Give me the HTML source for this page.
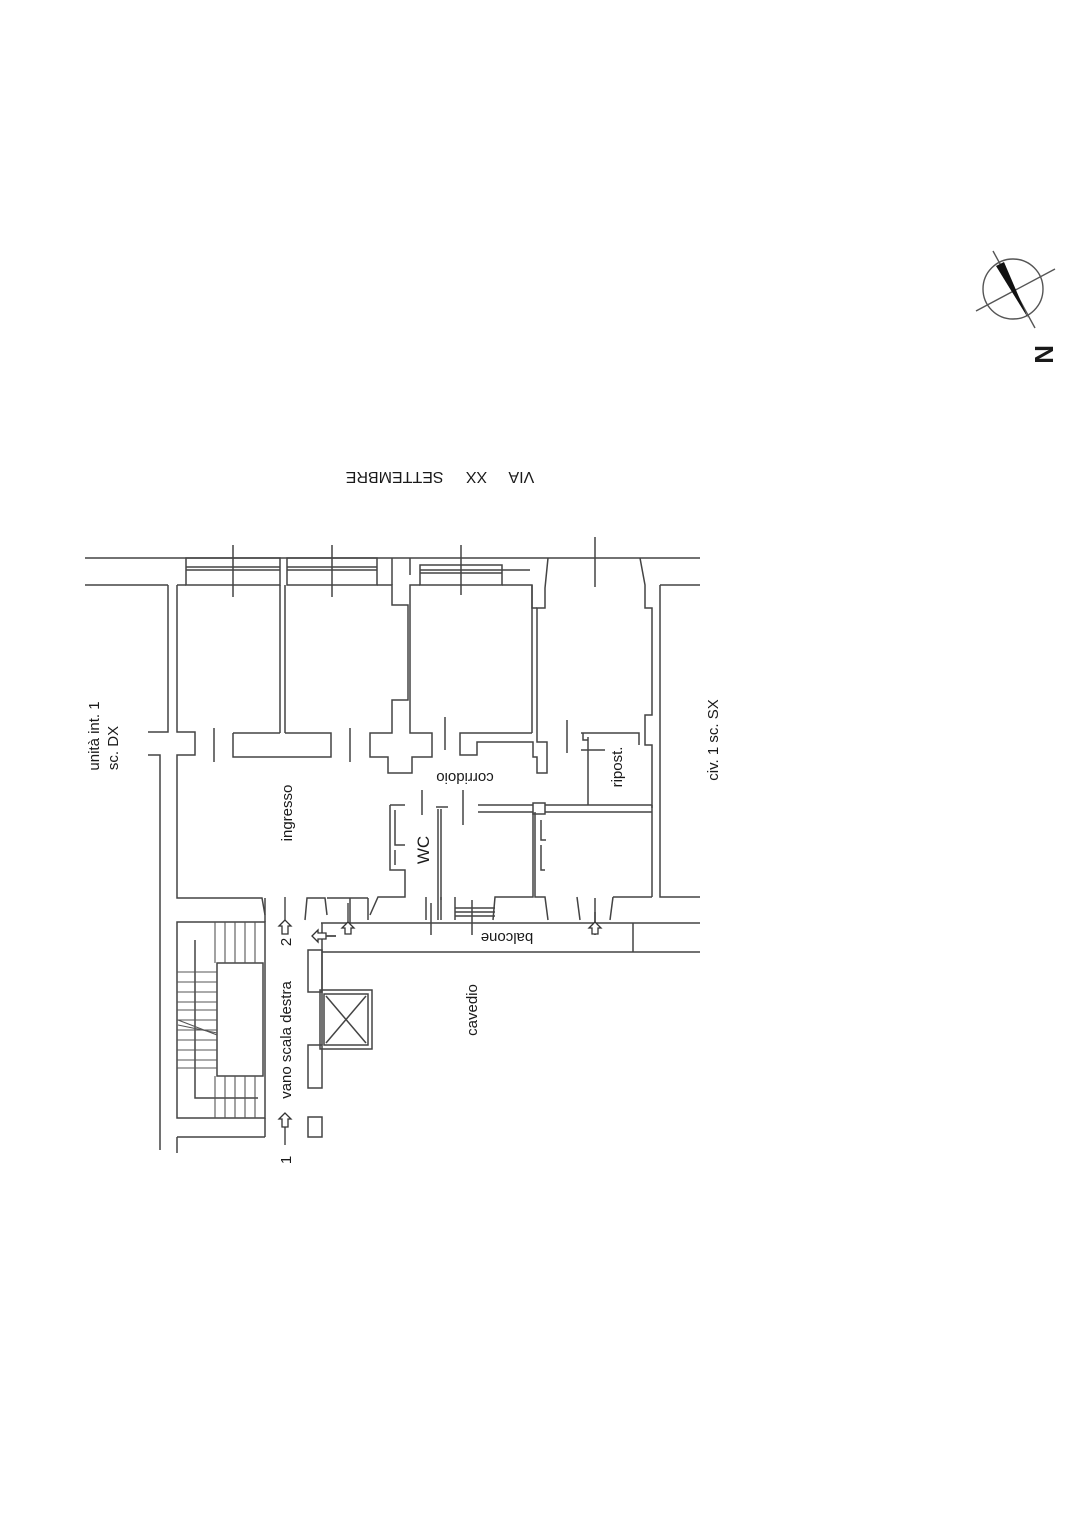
<!DOCTYPE html>
<html><head><meta charset="utf-8"><style>
html,body{margin:0;padding:0;background:#fff}
svg{display:block}
text{font-family:"Liberation Sans",sans-serif;fill:#1a1a1a}
</style></head><body>
<svg width="1085" height="1535" viewBox="0 0 1085 1535" xmlns="http://www.w3.org/2000/svg">
<rect width="1085" height="1535" fill="#fff"/>
<g stroke="#444" stroke-width="1.5" fill="none">
<line x1="85" y1="558" x2="700" y2="558"/>
<line x1="85" y1="585" x2="168" y2="585"/>
<line x1="660" y1="585" x2="700" y2="585"/>
<rect x="186" y="558" width="94" height="27"/><line x1="186" y1="567" x2="280" y2="567"/><line x1="186" y1="570" x2="280" y2="570"/>
<rect x="287" y="558" width="90" height="27"/><line x1="287" y1="567" x2="377" y2="567"/><line x1="287" y1="570" x2="377" y2="570"/>
<rect x="420" y="565" width="82" height="20"/><line x1="420" y1="570" x2="502" y2="570"/><line x1="420" y1="573" x2="502" y2="573"/>
<line x1="502" y1="570" x2="530" y2="570"/>
<line x1="233" y1="545" x2="233" y2="597"/><line x1="332" y1="545" x2="332" y2="597"/>
<line x1="461" y1="545" x2="461" y2="595"/><line x1="595" y1="537" x2="595" y2="587"/>
<polyline points="168,585 168,732 148,732"/>
<polyline points="177,585 177,732 195,732 195,755 177,755 177,898 262,898 265,915"/>
<polyline points="148,755 160,755 160,1150"/>
<line x1="280" y1="585" x2="280" y2="733"/><line x1="285" y1="585" x2="285" y2="733"/>
<polyline points="233,733 280,733"/><polyline points="285,733 331,733 331,757 233,757 233,733"/>
<line x1="177" y1="585" x2="186" y2="585"/>
<line x1="214" y1="728" x2="214" y2="762"/><line x1="350" y1="728" x2="350" y2="762"/>
<polyline points="377,585 392,585 392,605 408,605 408,700 392,700 392,733 370,733 370,757 388,757 388,773 412,773 412,757 432,757 432,733 410,733 410,585 420,585"/>
<line x1="392" y1="558" x2="392" y2="585"/><line x1="410" y1="558" x2="410" y2="575"/>
<polyline points="502,585 532,585 532,608 537,608"/>
<line x1="532" y1="585" x2="532" y2="733"/>
<polyline points="445,717 445,750"/>
<polyline points="532,733 460,733 460,755 477,755 477,742 533,742 533,757 537,757 537,773 547,773 547,742 537,742 537,715"/>
<polyline points="537,715 537,608 545,608 545,588 548,558"/>
<polyline points="640,558 645,585 645,608 652,608 652,715 645,715 645,745 652,745 652,808"/>
<polyline points="581,733 639,733 639,745"/>
<line x1="567" y1="720" x2="567" y2="753"/>
<polyline points="583,733 583,740 588,740"/>
<line x1="588" y1="737" x2="588" y2="805"/>
<line x1="581" y1="750" x2="605" y2="750"/>
<polyline points="660,585 660,897 700,897"/>
<line x1="652" y1="805" x2="652" y2="897"/>
<line x1="478" y1="805" x2="533" y2="805"/><line x1="478" y1="812" x2="533" y2="812"/>
<rect x="533" y="803" width="12" height="11"/>
<line x1="545" y1="805" x2="652" y2="805"/><line x1="545" y1="812" x2="652" y2="812"/>
<line x1="463" y1="790" x2="463" y2="825"/><line x1="422" y1="790" x2="422" y2="815"/>
<polyline points="390,805 405,805"/><polyline points="390,805 390,870 405,870 405,897 378,897 370,915"/>
<polyline points="395,810 395,845 405,845"/><polyline points="395,850 395,865"/>
<polyline points="436,807 448,807"/><line x1="438" y1="809" x2="438" y2="920"/><line x1="441" y1="809" x2="441" y2="900"/>
<polyline points="535,812 535,897 545,897 548,920"/>
<polyline points="541,820 541,840 546,840"/><polyline points="541,845 541,870 545,870"/>
<polyline points="533,812 533,897 495,897 493,920"/>
<polyline points="455,897 455,920"/>
<line x1="455" y1="908" x2="495" y2="908"/><line x1="455" y1="912" x2="495" y2="912"/><line x1="455" y1="916" x2="495" y2="916"/>
<line x1="472" y1="900" x2="472" y2="935"/>
<polyline points="441,897 441,920"/><polyline points="426,897 426,920"/>
<line x1="431" y1="903" x2="431" y2="935"/>
<polyline points="577,897 580,920"/><polyline points="613,897 610,920"/><line x1="613" y1="897" x2="652" y2="897"/>
<line x1="595" y1="898" x2="595" y2="935"/>
<polyline points="305,920 307,898 325,898 327,915"/>
<polyline points="350,898 350,930"/>
<polyline points="368,898 368,920"/>
<line x1="327" y1="898" x2="368" y2="898"/>
<line x1="321" y1="923" x2="700" y2="923"/>
<line x1="322" y1="952" x2="700" y2="952"/>
<line x1="633" y1="923" x2="633" y2="952"/>
<line x1="322" y1="923" x2="322" y2="1045"/>
<line x1="327" y1="936" x2="336" y2="936"/>
<rect x="177" y="922" width="88" height="196"/>
<rect x="217" y="963" width="46" height="113"/>
<polyline points="195,940 195,1098 258,1098"/>
<line x1="177" y1="1137" x2="265" y2="1137"/><line x1="177" y1="1137" x2="177" y2="1153"/>
<line x1="265" y1="1118" x2="265" y2="1137"/>
<line x1="265" y1="898" x2="265" y2="922"/>
</g>
<g stroke="#555" stroke-width="1.1">
<line x1="215" y1="922" x2="215" y2="963"/><line x1="225" y1="922" x2="225" y2="963"/><line x1="235" y1="922" x2="235" y2="963"/><line x1="245" y1="922" x2="245" y2="963"/><line x1="255" y1="922" x2="255" y2="963"/>
<line x1="215" y1="1076" x2="215" y2="1118"/><line x1="225" y1="1076" x2="225" y2="1118"/><line x1="235" y1="1076" x2="235" y2="1118"/><line x1="245" y1="1076" x2="245" y2="1118"/><line x1="255" y1="1076" x2="255" y2="1118"/>
<line x1="177" y1="972" x2="217" y2="972"/><line x1="177" y1="982" x2="217" y2="982"/><line x1="177" y1="992" x2="217" y2="992"/><line x1="177" y1="1002" x2="217" y2="1002"/><line x1="177" y1="1010" x2="217" y2="1010"/><line x1="177" y1="1020" x2="217" y2="1020"/><line x1="177" y1="1030" x2="217" y2="1030"/><line x1="177" y1="1040" x2="217" y2="1040"/><line x1="177" y1="1050" x2="217" y2="1050"/><line x1="177" y1="1060" x2="217" y2="1060"/><line x1="177" y1="1068" x2="217" y2="1068"/>
<line x1="178" y1="1020" x2="217" y2="1035"/><line x1="178" y1="1025" x2="217" y2="1033"/>
</g>
<g stroke="#444" stroke-width="1.5" fill="none">
<rect x="320" y="990" width="52" height="59"/>
<rect x="324" y="994" width="44" height="51"/>
<line x1="326" y1="996" x2="366" y2="1043"/><line x1="366" y1="996" x2="326" y2="1043"/>
<rect x="308" y="950" width="14" height="42"/>
<rect x="308" y="1045" width="14" height="43"/>
<rect x="308" y="1117" width="14" height="20"/>
</g>
<g stroke="#333" stroke-width="1.3" fill="#fff">
<line x1="285" y1="897" x2="285" y2="920"/>
<path d="M285,920 l-6,6 h3 v8 h6 v-8 h3 z"/>
<line x1="285" y1="1145" x2="285" y2="1125"/>
<path d="M285,1113 l-6,6 h3 v8 h6 v-8 h3 z"/>
<line x1="348" y1="903" x2="348" y2="925"/>
<path d="M348,922 l-6,6 h3 v6 h6 v-6 h3 z"/>
<line x1="595" y1="912" x2="595" y2="925"/>
<path d="M595,922 l-6,6 h3 v6 h6 v-6 h3 z"/>
<line x1="318" y1="936" x2="336" y2="936"/>
<path d="M312,936 l6,-6 v3 h8 v6 h-8 v3 z"/>
</g>
<g font-size="15">
<text transform="translate(292,813) rotate(-90)" text-anchor="middle">ingresso</text>
<text transform="translate(429,850) rotate(-90)" text-anchor="middle" font-size="17">WC</text>
<text transform="translate(622,767) rotate(-90)" text-anchor="middle">ripost.</text>
<text transform="translate(465,773) rotate(180)" text-anchor="middle">corridoio</text>
<text transform="translate(507,933) rotate(180)" text-anchor="middle">balcone</text>
<text transform="translate(477,1010) rotate(-90)" text-anchor="middle">cavedio</text>
<text transform="translate(291,1040) rotate(-90)" text-anchor="middle">vano scala destra</text>
<text transform="translate(291,942) rotate(-90)" text-anchor="middle">2</text>
<text transform="translate(291,1160) rotate(-90)" text-anchor="middle">1</text>
<text transform="translate(99,736) rotate(-90)" text-anchor="middle">unità int. 1</text>
<text transform="translate(118,748) rotate(-90)" text-anchor="middle">sc. DX</text>
<text transform="translate(718,740) rotate(-90)" text-anchor="middle">civ. 1 sc. SX</text>
<text transform="translate(440,472) rotate(180)" text-anchor="middle" font-size="16" xml:space="preserve">VIA     XX     SETTEMBRE</text>
</g>
<g stroke="#555" stroke-width="1.4" fill="none">
<circle cx="1013" cy="289" r="30"/>
<line x1="976" y1="311" x2="1055" y2="269"/>
<line x1="993" y1="251" x2="1035" y2="328"/>
</g>
<path d="M996,266 L1004,262 L1028,318 Z" fill="#111"/>
<text transform="translate(1035,345) rotate(90)" font-size="26" font-weight="bold">N</text>
</svg>
</body></html>
